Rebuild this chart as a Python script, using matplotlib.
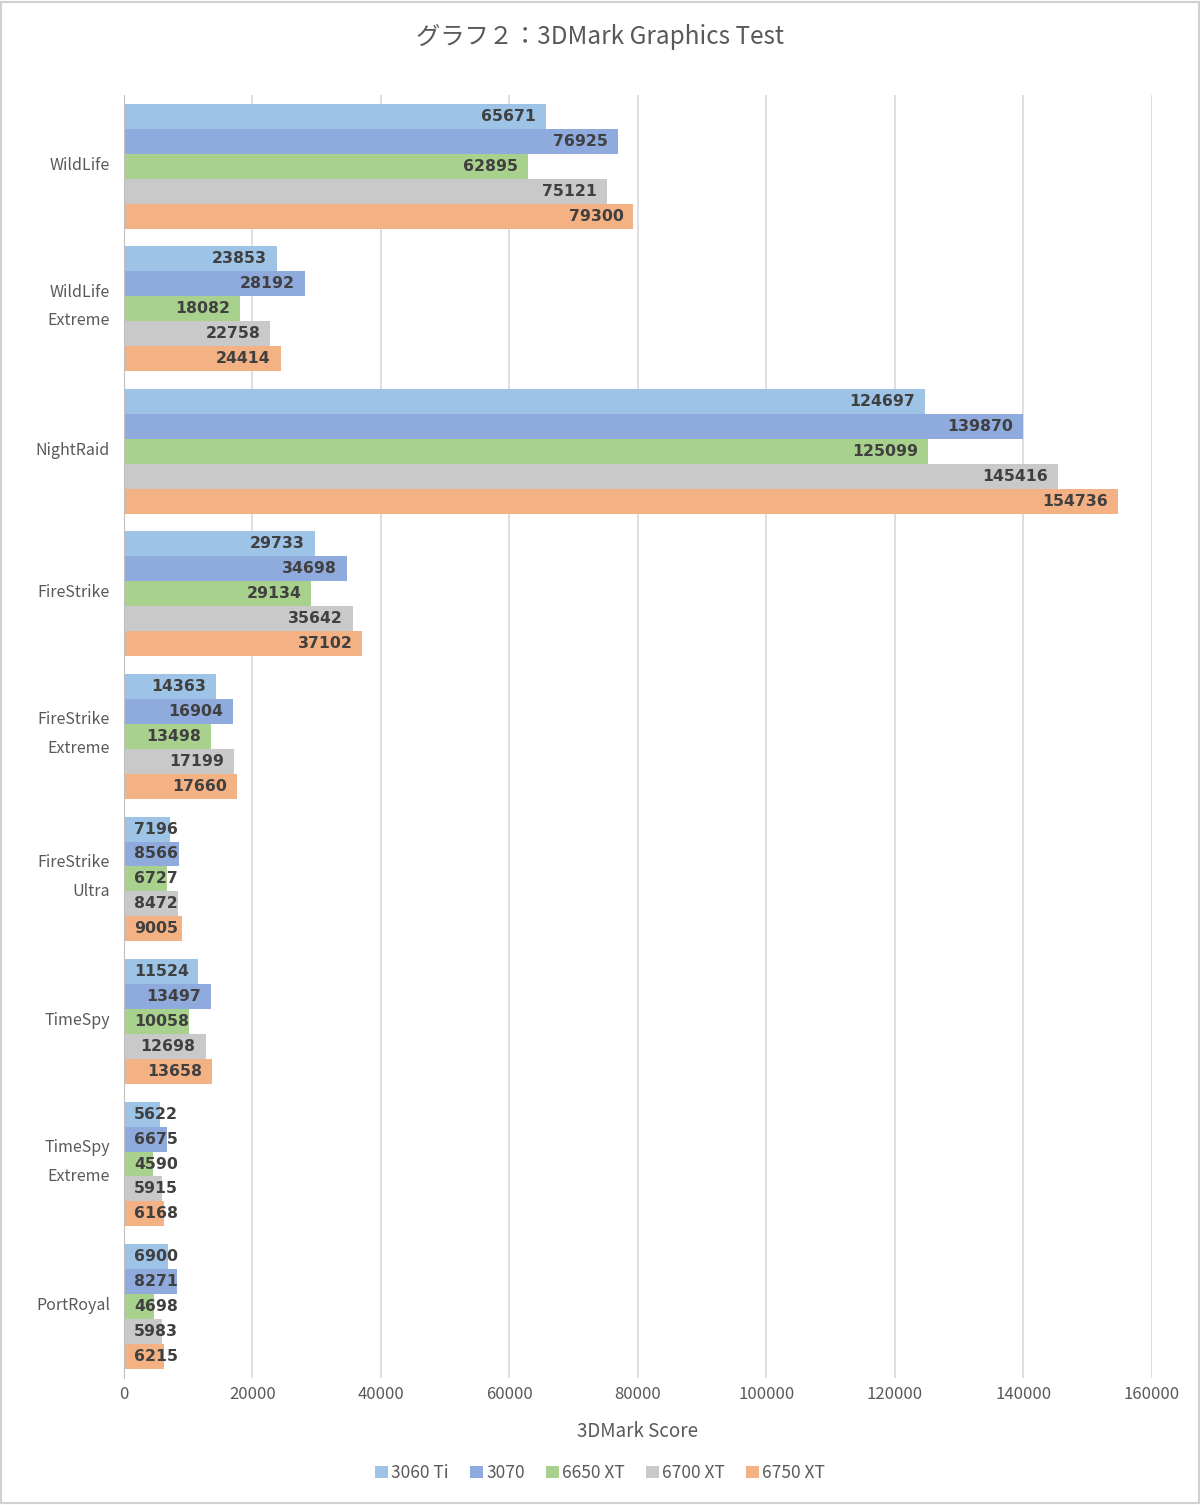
import matplotlib
matplotlib.use("Agg")
import matplotlib.pyplot as plt
import matplotlib.transforms as mtransforms
import numpy as np
from matplotlib.patches import Rectangle

plt.rcParams['font.family'] = ['Noto Sans CJK JP', 'DejaVu Sans']

categories = ["WildLife", "WildLife\nExtreme", "NightRaid", "FireStrike", "FireStrike\nExtreme",
              "FireStrike\nUltra", "TimeSpy", "TimeSpy\nExtreme", "PortRoyal"]
series_names = ["3060 Ti", "3070", "6650 XT", "6700 XT", "6750 XT"]
s3060ti = [65671, 23853, 124697, 29733, 14363, 7196, 11524, 5622, 6900]
s3070 = [76925, 28192, 139870, 34698, 16904, 8566, 13497, 6675, 8271]
s6650xt = [62895, 18082, 125099, 29134, 13498, 6727, 10058, 4590, 4698]
s6700xt = [75121, 22758, 145416, 35642, 17199, 8472, 12698, 5915, 5983]
s6750xt = [79300, 24414, 154736, 37102, 17660, 9005, 13658, 6168, 6215]
series = [s3060ti, s3070, s6650xt, s6700xt, s6750xt]
colors = ["#9DC3E6", "#8FAADC", "#A9D18E", "#C9C9C9", "#F4B183"]
xticks = [0, 20000, 40000, 60000, 80000, 100000, 120000, 140000, 160000]

fig = plt.figure(figsize=(12, 15.05), dpi=100)
ax = fig.add_axes([0.1033, 0.0845, 0.8567, 0.8524])

n = len(categories)
y = np.arange(n)
group = 0.875
bh = group / len(series)

for i, (name, vals, c) in enumerate(zip(series_names, series, colors)):
    pos = y - group / 2 + bh * (i + 0.5)
    ax.barh(pos, vals, height=bh, color=c, label=name, zorder=3)

ax.set_xlim(0, 160000)
ax.set_ylim(n - 0.5, -0.5)
fig.canvas.draw()
x0 = ax.transData.transform((0, 0))[0]
x1 = ax.transData.transform((160000, 0))[0]
ppu = (x1 - x0) / 160000
renderer = fig.canvas.get_renderer()
for i, vals in enumerate(series):
    pos = y - group / 2 + bh * (i + 0.5)
    for p, v in zip(pos, vals):
        t = ax.text(0, p, str(v), fontsize=11.3, fontweight='bold', color='#404040',
                    va='center', ha='right', zorder=4, family=['DejaVu Sans'])
        w = t.get_window_extent(renderer).width
        end_px = v * ppu
        right_px = max(end_px - 10, 10 + w)
        t.set_x(right_px / ppu)

ax.set_xticks(xticks)
ax.set_xticklabels([str(v) for v in xticks], fontsize=12, color='#595959')
ax.set_yticks(y)
ax.set_yticklabels(categories, fontsize=11.5, color='#595959', linespacing=1.9)
ax.tick_params(axis='y', length=0, pad=10)
ax.tick_params(axis='x', length=0, pad=6)
for lab in ax.get_yticklabels():
    dy = 10 if "\n" in lab.get_text() else 3
    lab.set_transform(lab.get_transform() +
                      mtransforms.ScaledTranslation(0, dy / 100, fig.dpi_scale_trans))
ax.grid(axis='x', color='#D9D9D9', linewidth=1.2, zorder=0)
for s in ['top', 'right', 'bottom']:
    ax.spines[s].set_visible(False)
ax.spines['left'].set_color('#BFBFBF')
ax.spines['left'].set_zorder(5)
ax.set_xlabel("3DMark Score", fontsize=13.5, color='#595959', labelpad=13)

fig.text(0.5, 0.9755, "グラフ２：3DMark Graphics Test", ha='center', va='center',
         fontsize=17.5, color='#595959')

leg = fig.legend(loc='center', bbox_to_anchor=(0.5, 0.0213), ncol=5, frameon=False,
                 fontsize=12.5, handlelength=0.75, handleheight=0.75, handletextpad=0.2,
                 columnspacing=1.2, labelcolor='#595959')

fig.patches.append(Rectangle((0.001, 0.001), 0.998, 0.998, transform=fig.transFigure,
                             fill=False, edgecolor='#D0D0D0', linewidth=1.5))

fig.savefig("out.png", dpi=100, facecolor='white')
